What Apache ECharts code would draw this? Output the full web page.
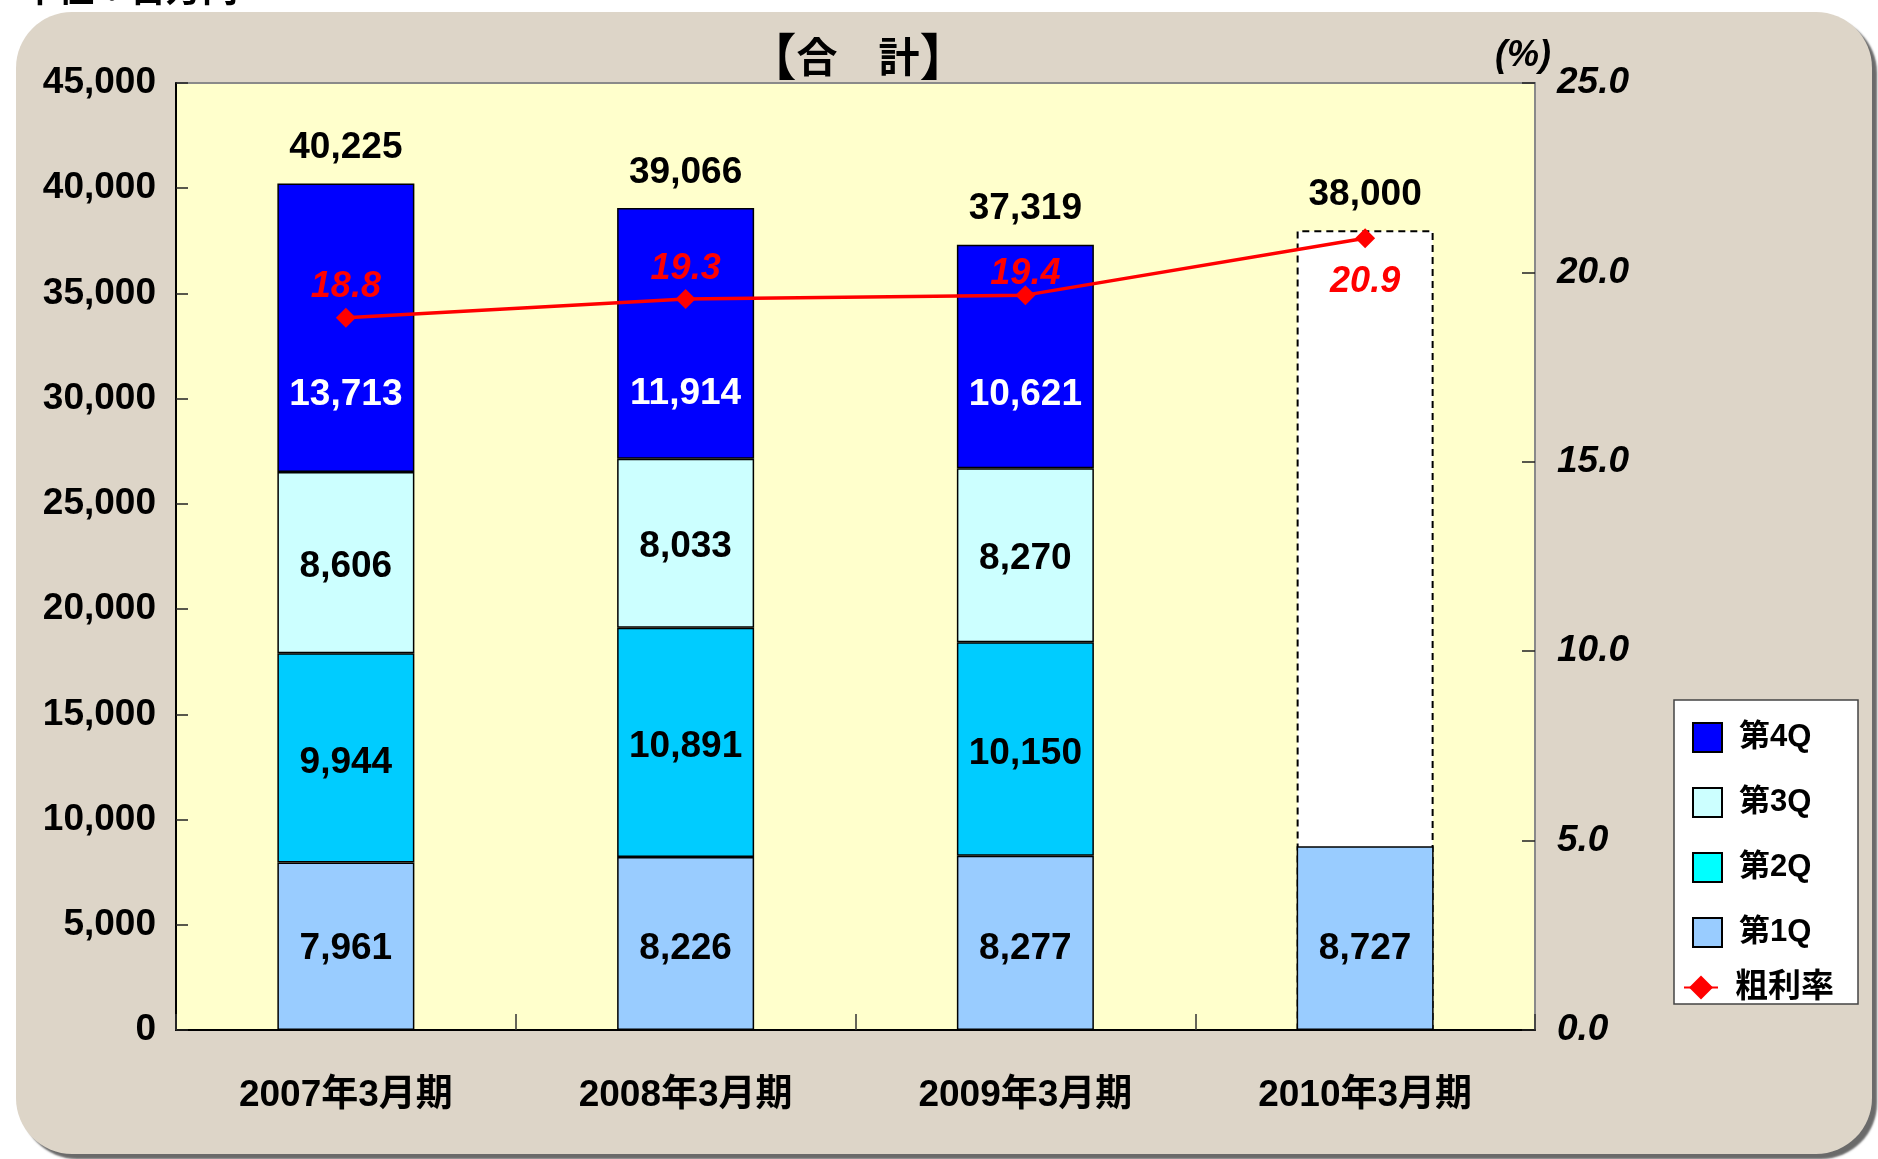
<!DOCTYPE html>
<html>
<head>
<meta charset="utf-8">
<script src="https://cdn.jsdelivr.net/npm/echarts@6/dist/echarts.min.js"></script>
<style>
html,body{margin:0;padding:0;background:#ffffff;}
#chart{width:1878px;height:1159px;}
</style>
</head>
<body>
<div id="chart"></div>
<script>
const categories = ['2007年3月期', '2008年3月期', '2009年3月期', '2010年3月期'];
const q1 = [7961, 8226, 8277, 8727];
const q2 = [9944, 10891, 10150, null];
const q3 = [8606, 8033, 8270, null];
const q4 = [13713, 11914, 10621, null];
const totals = [40225, 39066, 37319, 38000];
const grossMargin = [18.8, 19.3, 19.4, 20.9];
const forecastIndex = 3;

const FONT = '"Liberation Sans", "Noto Sans CJK JP", sans-serif';
const fmt = v => Number(v).toLocaleString('en-US');

const chart = echarts.init(document.getElementById('chart'), null, {renderer: 'canvas'});

const barLabel = {show: true, position: 'inside', offset: [0, 4], fontFamily: FONT, fontWeight: 'bold', fontSize: 37, color: '#000',
  formatter: p => fmt(p.value)};

const q4Offsets = [67, 61, 38];
const marginLabelDist = [3, 2, -7];

const option = {
  animation: false,
  backgroundColor: '#ffffff',
  textStyle: {fontFamily: FONT},
  title: [
    {text: '{b|【}{t|合　計}{b|】}', left: 853, top: 26, textAlign: 'center',
     textStyle: {rich: {
       b: {fontFamily: '"Noto Sans CJK JP", sans-serif', fontWeight: 'bold', fontSize: 50, color: '#000'},
       t: {fontFamily: '"Noto Sans CJK JP", sans-serif', fontWeight: 'bold', fontSize: 41, color: '#000'}
     }}},
    {text: '(%)', left: 1518, top: 33, textAlign: 'center',
     textStyle: {fontFamily: FONT, fontStyle: 'italic', fontWeight: 'bold', fontSize: 36, color: '#000'}}
  ],
  graphic: [
    {type: 'rect', z: -100, shape: {x: 16, y: 12, width: 1856, height: 1142, r: 56},
     style: {fill: '#ddd5c8', shadowColor: 'rgba(90,90,90,0.9)', shadowOffsetX: 5, shadowOffsetY: 5, shadowBlur: 2}},
    {type: 'text', z: -50, left: 22, top: -30,
     style: {text: '単位：百万円', font: 'bold 36px "Noto Sans CJK JP", sans-serif', fill: '#000'}},
    {type: 'rect', z: -40, shape: {x: 1674, y: 700, width: 184, height: 304},
     style: {fill: '#ffffff', stroke: '#444', lineWidth: 1.5}}
  ],
  legend: [
    {orient: 'vertical', left: 1692, top: 722, padding: 0, itemWidth: 29, itemHeight: 29, itemGap: 34,
     icon: 'rect', selectedMode: false,
     textStyle: {fontFamily: FONT, fontWeight: 'bold', fontSize: 31, color: '#000', padding: [0, 0, 0, 12]},
     data: [
       {name: '第4Q'},
       {name: '第3Q'},
       {name: '第2Q', itemStyle: {color: '#00ffff'}},
       {name: '第1Q'}
     ]},
    {orient: 'vertical', left: 1683, top: 971, padding: 0, itemWidth: 34, itemHeight: 30, selectedMode: false,
     textStyle: {fontFamily: FONT, fontWeight: 'bold', fontSize: 33, color: '#000', padding: [0, 0, 0, 12]},
     data: [{name: '粗利率'}]}
  ],
  grid: {left: 176, right: 343, top: 83, bottom: 129, show: true, backgroundColor: '#ffffcc',
         borderColor: '#8a8a8a', borderWidth: 2},
  xAxis: {
    type: 'category', data: categories,
    axisLine: {lineStyle: {color: '#000', width: 2}},
    axisTick: {show: true, inside: true, length: 16, lineStyle: {color: '#333', width: 1.5}},
    axisLabel: {fontFamily: FONT, fontWeight: 'bold', fontSize: 37, color: '#000', margin: 47}
  },
  yAxis: [
    {type: 'value', min: 0, max: 45000, interval: 5000, position: 'left',
     axisLine: {show: true, lineStyle: {color: '#000', width: 2}},
     axisTick: {show: true, inside: true, length: 12, lineStyle: {color: '#222', width: 1.5}},
     splitLine: {show: false},
     axisLabel: {fontFamily: FONT, fontWeight: 'bold', fontSize: 37, color: '#000', margin: 20,
       formatter: v => fmt(v)}},
    {type: 'value', min: 0, max: 25, interval: 5, position: 'right',
     axisLine: {show: true, lineStyle: {color: '#8a8a8a', width: 2}},
     axisTick: {show: true, inside: true, length: 13, lineStyle: {color: '#222', width: 1.5}},
     splitLine: {show: false},
     axisLabel: {fontFamily: FONT, fontWeight: 'bold', fontStyle: 'italic', fontSize: 37, color: '#000', margin: 22,
       formatter: v => v.toFixed(1)}}
  ],
  series: [
    {
      name: '合計', type: 'bar', barWidth: 137, barGap: '-100%', yAxisIndex: 0, z: 1,
      data: totals.map((v, i) => ({
        value: v,
        itemStyle: i === forecastIndex
          ? {color: '#ffffff', borderColor: '#000', borderWidth: 2, borderType: [7, 5]}
          : {color: 'rgba(0,0,0,0)', borderWidth: 0}
      })),
      label: {show: true, position: 'top', distance: 17, fontFamily: FONT, fontWeight: 'bold', fontSize: 37, color: '#000',
        formatter: p => fmt(p.value)},
      silent: true
    },
    {name: '第1Q', type: 'bar', stack: 'q', barWidth: 137, z: 2, data: q1,
      itemStyle: {color: '#99ccff', borderColor: '#000', borderWidth: 1.5},
      label: Object.assign({}, barLabel, {position: 'insideBottom', distance: 63, offset: [0, 0]})},
    {name: '第2Q', type: 'bar', stack: 'q', barWidth: 137, z: 2, data: q2,
      itemStyle: {color: '#00ccff', borderColor: '#000', borderWidth: 1.5},
      label: Object.assign({}, barLabel, {offset: [0, 5]})},
    {name: '第3Q', type: 'bar', stack: 'q', barWidth: 137, z: 2, data: q3,
      itemStyle: {color: '#ccffff', borderColor: '#000', borderWidth: 1.5},
      label: barLabel},
    {name: '第4Q', type: 'bar', stack: 'q', barWidth: 137, z: 2,
      data: q4.map((v, i) => ({value: v, label: {offset: [0, q4Offsets[i] || 0]}})),
      itemStyle: {color: '#0000ff', borderColor: '#000', borderWidth: 1.5},
      label: Object.assign({}, barLabel, {color: '#ffffff'})},
    {
      name: '粗利率', type: 'line', yAxisIndex: 1, z: 5,
      data: grossMargin.map((v, i) => ({
        value: v,
        label: i === forecastIndex
          ? {position: 'bottom', distance: 16, textShadowColor: 'transparent'}
          : {position: 'top', distance: marginLabelDist[i]}
      })),
      symbol: 'diamond', symbolSize: 20,
      lineStyle: {color: '#ff0000', width: 3.5},
      itemStyle: {color: '#ff0000'},
      label: {show: true, fontFamily: FONT, fontWeight: 'bold', fontStyle: 'italic', fontSize: 36, color: '#ff0000',
        textShadowColor: '#ffffff', textShadowOffsetX: 2, textShadowOffsetY: 2, textShadowBlur: 0,
        formatter: p => Number(p.value).toFixed(1)}
    }
  ]
};

chart.setOption(option);
</script>
</body>
</html>
